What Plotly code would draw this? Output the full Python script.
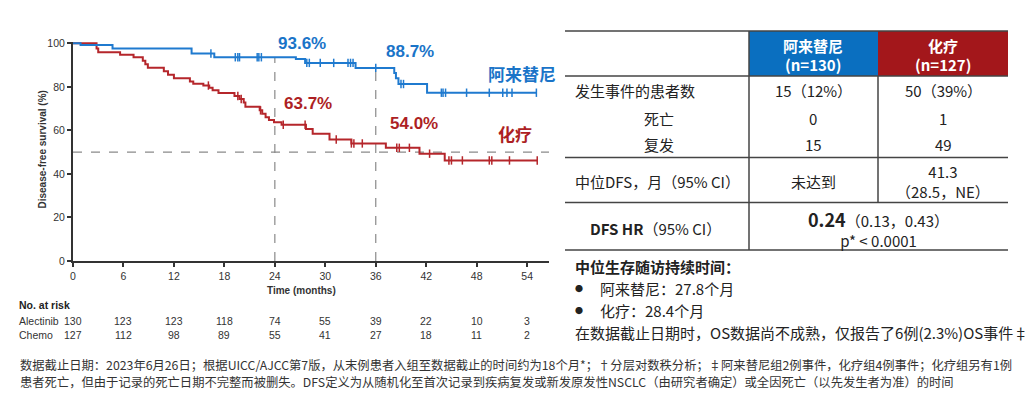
import plotly.graph_objects as go

# ---------------- data ----------------
alec_event_t = [0, 0.9, 4.7, 14.1, 16.8, 26.5, 27.6, 33.6, 38.2, 38.4, 38.7, 42.1, 55.1]
alec_event_s = [100, 99.2, 97.6, 95.3, 93.6, 92.8, 91.0, 88.7, 86.4, 84.0, 81.3, 77.3, 77.3]
alec_censor_t = [16.4, 19.3, 19.6, 19.8, 21.9, 22.1, 22.4, 27.8, 28.1, 29.4, 31.0, 32.7, 33.0, 33.3,
                 36.0, 39.0, 39.3, 43.8, 44.0, 44.3, 46.8, 49.5, 51.1, 51.6, 52.2, 55.1]

chemo_event_t = [0, 2.8, 3.0, 5.6, 7.2, 8.3, 8.6, 8.9, 10.8, 11.3, 12.0, 13.9, 14.3, 15.5, 16.2, 16.6,
                 17.3, 19.2, 19.8, 20.3, 20.5, 22.2, 22.5, 22.9, 23.3, 23.9, 24.8, 27.7, 28.5, 30.5,
                 33.1, 37.2, 41.2, 44.2, 55.2]
chemo_event_s = [100, 97.6, 95.9, 94.8, 93.6, 92.0, 90.4, 88.8, 87.2, 85.6, 84.0, 82.4, 81.4, 80.6,
                 79.6, 78.4, 77.2, 75.8, 74.4, 72.8, 70.8, 69.2, 67.6, 66.0, 64.8, 63.7, 62.6, 60.6,
                 58.4, 55.8, 54.0, 52.0, 49.3, 46.2, 46.2]
chemo_censor_t = [16.1, 19.6, 20.0, 22.3, 25.0, 27.6, 31.3, 33.1, 33.4, 34.4, 38.5, 38.8, 40.0, 42.4,
                  44.7, 45.0, 46.3, 49.5, 49.8, 51.9, 55.2]

landmark_t = [24, 36]
alec_landmark = ["93.6%", "88.7%"]
chemo_landmark = ["63.7%", "54.0%"]

x_ticks = [0, 6, 12, 18, 24, 30, 36, 42, 48, 54]
y_ticks = [0, 20, 40, 60, 80, 100]
risk_alec = [130, 123, 123, 118, 74, 55, 39, 22, 10, 3]
risk_chemo = [127, 112, 98, 89, 55, 41, 27, 18, 11, 2]

table_headers = [["阿来替尼", "(n=130)"], ["化疗", "(n=127)"]]
table_labels = ["发生事件的患者数", "死亡", "复发", "中位DFS，月（95% CI）"]
table_alec = ["15（12%）", "0", "15", "未达到"]
table_chemo = ["50（39%）", "1", "49", "41.3<br>（28.5，NE）"]
hr_text = ["0.24", "（0.13，0.43）", "p* < 0.0001"]

follow_title = "中位生存随访持续时间："
follow_items = ["阿来替尼：27.8个月", "化疗：28.4个月"]
os_note = "在数据截止日期时，OS数据尚不成熟，仅报告了6例(2.3%)OS事件‡"
footnote = ["数据截止日期：2023年6月26日；根据UICC/AJCC第7版，从末例患者入组至数据截止的时间约为18个月*；†分层对数秩分析；‡阿来替尼组2例事件，化疗组4例事件；化疗组另有1例",
            "患者死亡，但由于记录的死亡日期不完整而被删失。DFS定义为从随机化至首次记录到疾病复发或新发原发性NSCLC（由研究者确定）或全因死亡（以先发生者为准）的时间"]

# ---------------- style ----------------
OFF = 8  # page body margin
W, H = 1033 - OFF, 408 - OFF
L, R, T, B = 73, 549, 42, 261          # plot area in reference pixels
BLUE = "#1f7acf"
RED = "#b5262b"
BLUE_T = "#1a74c8"
RED_T = "#ad1f24"
HDR_BLUE = "#0a6fc0"
HDR_RED = "#a3171b"
TXT = "#222222"
CJK = "Noto Sans CJK SC"
ARIAL = "Liberation Sans, Arial"


def px(x):
    return (x - L) / (R - L)


def py(y):
    return (B - y) / (B - T)


def surv_at(ts, ss, t):
    v = ss[0]
    for a, b in zip(ts, ss):
        if a <= t:
            v = b
    return v


fig = go.Figure()

# reference lines
fig.add_trace(go.Scatter(x=[0, 56.6], y=[50, 50], mode="lines",
                         line=dict(color="#8a8a8a", width=1.2, dash="dash"), hoverinfo="skip"))
for t, s in zip(landmark_t, [surv_at(alec_event_t, alec_event_s, t) for t in landmark_t]):
    fig.add_trace(go.Scatter(x=[t, t], y=[0, s], mode="lines",
                             line=dict(color="#8a8a8a", width=1.2, dash="dash"), hoverinfo="skip"))

# KM curves
for ts, ss, ct, col in [(chemo_event_t, chemo_event_s, chemo_censor_t, RED),
                        (alec_event_t, alec_event_s, alec_censor_t, BLUE)]:
    fig.add_trace(go.Scatter(x=ts, y=ss, mode="lines", line=dict(color=col, width=2, shape="hv")))
    fig.add_trace(go.Scatter(x=ct, y=[surv_at(ts, ss, t) for t in ct], mode="markers",
                             marker=dict(symbol="line-ns", size=6, line=dict(color=col, width=1.5)),
                             cliponaxis=False))

fig.update_layout(
    width=W, height=H, showlegend=False,
    margin=dict(l=L - OFF, r=W - (R - OFF), t=T - OFF, b=H - (B - OFF), pad=0),
    paper_bgcolor="white", plot_bgcolor="white",
    xaxis=dict(range=[0, 56.6], tickvals=x_ticks, ticks="outside", ticklen=4, tickwidth=1.5,
               tickcolor="#333", showline=True, linecolor="#333", linewidth=2, showgrid=False,
               zeroline=False, tickfont=dict(family=ARIAL, size=10.5, color="#333")),
    yaxis=dict(range=[0, 100.6], tickvals=y_ticks, ticks="outside", ticklen=4, tickwidth=1.5,
               tickcolor="#333", showline=True, linecolor="#333", linewidth=2, showgrid=False,
               zeroline=False, tickfont=dict(family=ARIAL, size=10.5, color="#333")),
)

ann = []


def add(text, x, y, size=14, color=TXT, xanchor="center", family=CJK, **kw):
    ann.append(dict(text=text, x=px(x), y=py(y), xref="paper", yref="paper",
                    showarrow=False, xanchor=xanchor, yanchor="middle",
                    font=dict(family=family, size=size, color=color), **kw))


# axis titles
add("<b>Time (months)</b>", 301, 290.5, size=10, color="#333", family=ARIAL)
add("<b>Disease-free survival (%)</b>", 41.5, 150, size=10, color="#333", family=ARIAL, textangle=-90)

# landmark labels
add("<b>%s</b>" % alec_landmark[0], 302, 43, size=17, color=BLUE_T, family=ARIAL)
add("<b>%s</b>" % alec_landmark[1], 410, 51.5, size=17, color=BLUE_T, family=ARIAL)
add("<b>%s</b>" % chemo_landmark[0], 308, 103, size=17, color=RED_T, family=ARIAL)
add("<b>%s</b>" % chemo_landmark[1], 414, 123, size=17, color=RED_T, family=ARIAL)
add("<b>阿来替尼</b>", 522, 73.5, size=17, color=BLUE_T)
add("<b>化疗</b>", 515, 133, size=17, color=RED_T)

# risk table
add("<b>No. at risk</b>", 17, 305, size=10.5, color="#222", family=ARIAL, xanchor="left")
add("Alectinib", 17, 321, size=10.5, color="#333", family=ARIAL, xanchor="left")
add("Chemo", 17, 335, size=10.5, color="#333", family=ARIAL, xanchor="left")
for t, a, c in zip(x_ticks, risk_alec, risk_chemo):
    for val, yy in [(a, 321), (c, 335)]:
        ann.append(dict(text=str(val), x=t, y=py(yy), xref="x", yref="paper", showarrow=False,
                        xanchor="center", yanchor="middle",
                        font=dict(family=ARIAL, size=10.5, color="#333")))

# ---- right table ----
shapes = []
TX0, TXC1, TXC2, TX1 = 565, 749, 878, 1008
shapes.append(dict(type="rect", xref="paper", yref="paper", x0=px(TXC1), x1=px(TXC2), y0=py(76), y1=py(31),
                   fillcolor=HDR_BLUE, line=dict(width=0), layer="below"))
shapes.append(dict(type="rect", xref="paper", yref="paper", x0=px(TXC2), x1=px(TX1), y0=py(76), y1=py(31),
                   fillcolor=HDR_RED, line=dict(width=0), layer="below"))
for yy in [31, 76, 157.5, 202.5, 250]:
    shapes.append(dict(type="line", xref="paper", yref="paper", x0=px(TX0), x1=px(TX1), y0=py(yy), y1=py(yy),
                       line=dict(color="#444", width=1.5)))
shapes.append(dict(type="line", xref="paper", yref="paper", x0=px(TXC1), x1=px(TXC1), y0=py(31), y1=py(250),
                   line=dict(color="#444", width=1.5)))
shapes.append(dict(type="line", xref="paper", yref="paper", x0=px(TXC2), x1=px(TXC2), y0=py(76), y1=py(202.5),
                   line=dict(color="#444", width=1.5)))

for cx, (l1, l2) in zip([813, 943], table_headers):
    add("<b>%s</b>" % l1, cx, 45, size=15, color="white")
    add("<b>%s</b>" % l2, cx, 64, size=15, color="white")

row_y = [90.5, 118, 144, 181.5]
label_x = [573, 642, 642, 573]
for lab, lx, yy, a, c in zip(table_labels, label_x, row_y, table_alec, table_chemo):
    add(lab, lx, yy, size=15, xanchor="left")
    add(a, 813, yy, size=15)
    add(c, 943, yy, size=15)
add("<b>DFS HR</b>（95% CI）", 655, 228, size=15)
add("<span style='font-size:18px'><b>%s</b></span>%s<br>%s" % tuple(hr_text), 878, 228, size=15)

# follow-up text
add("<b>%s</b>" % follow_title, 573, 266, size=15, xanchor="left")
for yy, item in zip([288, 310], follow_items):
    add("●", 573, yy, size=8, xanchor="left")
    add(item, 598, yy, size=15, xanchor="left")
add(os_note, 573, 332, size=15, xanchor="left")

# footnote
add(footnote[0], 18, 365, size=12.3, color="#333", xanchor="left")
add(footnote[1], 18, 382, size=12.3, color="#333", xanchor="left")

fig.update_layout(annotations=ann, shapes=shapes)
fig.write_html("out.html")
